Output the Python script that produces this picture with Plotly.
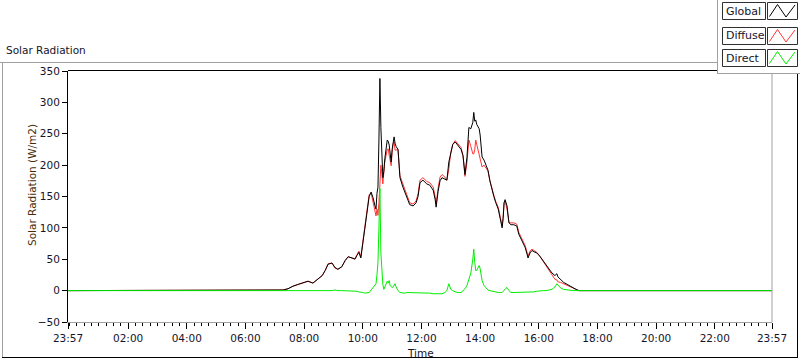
import plotly.graph_objects as go
import pandas as pd

# ---------------- data ----------------
times = ["23:57", "07:07", "07:17", "07:27", "07:37", "07:48", "07:58", "08:08", "08:18", "08:28",
         "08:37", "08:43", "08:49", "08:57", "09:03", "09:09", "09:17", "09:24", "09:30", "09:38",
         "09:44", "09:48", "09:52", "09:56", "10:00", "10:04", "10:09", "10:13", "10:17", "10:21",
         "10:25", "10:27", "10:29", "10:31", "10:33", "10:35", "10:37", "10:39", "10:41", "10:43",
         "10:45", "10:50", "10:52", "10:54", "10:56", "10:58", "11:00", "11:02", "11:04", "11:06",
         "11:08", "11:12", "11:16", "11:22", "11:26", "11:30", "11:36", "11:43", "11:49", "11:53",
         "11:57", "12:03", "12:11", "12:17", "12:24", "12:28", "12:30", "12:34", "12:38", "12:42",
         "12:48", "12:52", "12:56", "13:00", "13:04", "13:09", "13:15", "13:21", "13:25", "13:29",
         "13:33", "13:37", "13:41", "13:45", "13:47", "13:49", "13:51", "13:53", "13:58", "14:00",
         "14:04", "14:08", "14:12", "14:16", "14:20", "14:24", "14:28", "14:32", "14:37", "14:41",
         "14:45", "14:47", "14:49", "14:51", "14:53", "14:55", "14:59", "15:03", "15:09", "15:15",
         "15:19", "15:24", "15:28", "15:32", "15:36", "15:38", "15:42", "15:46", "15:50", "15:56",
         "16:02", "16:09", "16:15", "16:21", "16:27", "16:33", "16:37", "16:39", "16:45", "16:51",
         "16:58", "17:04", "17:10", "17:16", "17:22", "23:57"]

global_wm2 = [0, 0, 1, 3, 7, 10, 12, 15, 12, 19,
              24, 32, 42, 44, 37, 34, 38, 48, 54, 52,
              50, 56, 61, 52, 75, 100, 123, 150, 157, 148,
              135, 130, 155, 165, 240, 338, 260, 215, 180, 190,
              210, 240, 238, 232, 215, 205, 225, 240, 245, 235,
              230, 225, 180, 165, 157, 150, 137, 135, 140, 150,
              172, 176, 170, 168, 160, 145, 133, 158, 175, 180,
              178, 176, 205, 222, 233, 237, 230, 225, 215, 185,
              212, 260, 258, 268, 284, 270, 272, 265, 258, 248,
              213, 208, 200, 192, 175, 160, 150, 140, 130, 115,
              100, 115, 140, 145, 140, 135, 108, 105, 105, 103,
              90, 82, 75, 69, 58, 52, 60, 64, 62, 60,
              55, 47, 40, 34, 28, 24, 27, 22, 17, 13,
              10, 7, 4, 2, 0, 0]

diffuse_wm2 = [0, 0, 1, 3, 7, 10, 12, 15, 12, 19,
               24, 32, 43, 44, 36, 34, 38, 48, 54, 52,
               51, 57, 63, 54, 78, 104, 126, 153, 156, 143,
               126, 119, 130, 120, 140, 175, 200, 186, 170, 188,
               205, 225, 226, 216, 207, 199, 220, 234, 237, 224,
               224, 225, 183, 169, 161, 153, 140, 138, 143, 154,
               176, 180, 174, 172, 165, 150, 138, 163, 181, 185,
               181, 176, 194, 220, 233, 239, 233, 228, 215, 182,
               204, 240, 230, 218, 218, 225, 240, 233, 218, 213,
               197, 200, 196, 191, 175, 161, 152, 142, 133, 118,
               103, 116, 140, 143, 136, 130, 108, 108, 108, 106,
               93, 85, 78, 72, 61, 55, 63, 66, 64, 61,
               55, 47, 40, 33, 26, 18, 17, 14, 13, 11,
               9, 7, 4, 2, 0, 0]

direct_wm2 = [0, 0, 0, 0, 0, 0, 0, 0, 0, 0,
              0, 0, -1, 0, 1, 0, 0, 0, 0, 0,
              -1, -1, -2, -2, -3, -4, -3, -3, 1, 5,
              9, 11, 25, 45, 100, 163, 60, 29, 10, 2,
              5, 15, 12, 16, 8, 6, 5, 6, 8, 11,
              6, 0, -3, -4, -4, -3, -3, -3, -3, -4,
              -4, -4, -4, -4, -5, -5, -5, -5, -6, -5,
              -3, 0, 11, 2, 0, -2, -3, -3, 0, 3,
              8, 20, 28, 50, 66, 45, 32, 32, 40, 35,
              16, 8, 4, 1, 0, -1, -2, -2, -3, -3,
              -3, -1, 0, 2, 4, 5, 0, -3, -3, -3,
              -3, -3, -3, -3, -3, -3, -3, -2, -2, -1,
              0, 0, 0, 1, 2, 6, 11, 9, 4, 2,
              1, 0, 0, 0, 0, 0]

y_ticks = [-50, 0, 50, 100, 150, 200, 250, 300, 350]
x_tick_labels = ["23:57", "02:00", "04:00", "06:00", "08:00", "10:00", "12:00",
                 "14:00", "16:00", "18:00", "20:00", "22:00", "23:57"]


# times wrap past midnight: the day advances whenever the clock goes backwards
def to_datetimes(hhmm_list, first_day="2020-01-01"):
    out, day, prev = [], pd.Timestamp(first_day), None
    for s in hhmm_list:
        h, m = map(int, s.split(":"))
        mins = h * 60 + m
        if prev is not None and mins < prev:
            day = day + pd.Timedelta(days=1)
        prev = mins
        out.append(day + pd.Timedelta(minutes=mins))
    return out


x_dt = to_datetimes(times)
x_start, x_end = x_dt[0], x_dt[-1]
tick_dt = to_datetimes(x_tick_labels)

# ---------------- geometry helpers (pixels -> paper) ----------------
W, H = 800, 361
PL, PR, PT, PB = 68, 772, 71, 322


def fx(px):
    return (px - PL) / (PR - PL)


def fy(py):
    return (PB - py) / (PB - PT)


FONT = "DejaVu Sans"
TXT = "#14142a"

fig = go.Figure()
fig.add_trace(go.Scatter(x=x_dt, y=diffuse_wm2, mode="lines", name="Diffuse",
                         line=dict(color="#ff3535", width=1), showlegend=False))
fig.add_trace(go.Scatter(x=x_dt, y=global_wm2, mode="lines", name="Global",
                         line=dict(color="#000000", width=1), showlegend=False))
fig.add_trace(go.Scatter(x=x_dt, y=direct_wm2, mode="lines", name="Direct",
                         line=dict(color="#00ee00", width=1), showlegend=False))

shapes = []


def line(x0, y0, x1, y1, color, width=1):
    shapes.append(dict(type="line", xref="paper", yref="paper",
                       x0=fx(x0), y0=fy(y0), x1=fx(x1), y1=fy(y1),
                       line=dict(color=color, width=width), layer="above"))


def rect(x0, y0, x1, y1, fill, border, width=1):
    shapes.append(dict(type="rect", xref="paper", yref="paper",
                       x0=fx(x0), y0=fy(y0), x1=fx(x1), y1=fy(y1),
                       fillcolor=fill, line=dict(color=border, width=width), layer="above"))


# outer frame
line(0, 62.5, 717, 62.5, "#a0a0a0")
line(2.5, 62, 2.5, 357, "#a0a0a0")
line(2, 357.5, 798, 357.5, "#000000")
line(797.5, 73, 797.5, 358, "#000000")
# plot area border (top black, right gray)
line(PL, PT - 0.5, 717, PT - 0.5, "#000000")
line(PR, 73, PR, PB, "#a0a0a0")

# legend panel
rect(717, -2, 802, 73, "#ffffff", "rgba(0,0,0,0)", 0)
line(717.5, 0, 717.5, 73, "#a0a0a0")
line(717, 73.5, 800, 73.5, "#a0a0a0")

legend_items = [("Global", "#000000", 2), ("Diffuse", "#ff3535", 27), ("Direct", "#00ee00", 49)]
annotations = []
for name, color, top in legend_items:
    rect(722.5, top + 0.5, 765.5, top + 17.5, "#ffffff", "#303030")
    rect(767.5, top + 0.5, 797.5, top + 17.5, "#ffffff", "#303030")
    pts = [(769.5, top + 14.5), (777.5, top + 2.5), (786, top + 15), (795, top + 3)]
    path = "M " + " L ".join(f"{fx(px)},{fy(py)}" for px, py in pts)
    shapes.append(dict(type="path", xref="paper", yref="paper", path=path,
                       line=dict(color=color, width=1), layer="above"))
    annotations.append(dict(text=name, xref="paper", yref="paper", x=fx(724), y=fy(top + 9),
                            xanchor="left", yanchor="middle", showarrow=False,
                            font=dict(family=FONT, size=11, color=TXT)))

annotations += [
    dict(text="Solar Radiation", xref="paper", yref="paper", x=fx(4), y=fy(50),
         xanchor="left", yanchor="middle", showarrow=False,
         font=dict(family=FONT, size=10.5, color=TXT)),
    dict(text="Solar Radiation (W/m2)", xref="paper", yref="paper", x=fx(32), y=fy(185),
         xanchor="center", yanchor="middle", textangle=-90, showarrow=False,
         font=dict(family=FONT, size=10.5, color="#4a2c08")),
    dict(text="Time", xref="paper", yref="paper", x=fx(420), y=fy(353),
         xanchor="center", yanchor="middle", showarrow=False,
         font=dict(family=FONT, size=10.5, color=TXT)),
]

fig.update_layout(
    width=W, height=H, autosize=False,
    margin=dict(l=PL, r=W - PR, t=PT, b=H - PB, pad=0),
    paper_bgcolor="#ffffff", plot_bgcolor="#ffffff",
    shapes=shapes, annotations=annotations,
    showlegend=False,
)
fig.update_xaxes(
    type="date", range=[x_start, x_end],
    tickmode="array", tickvals=tick_dt, ticktext=x_tick_labels,
    ticks="outside", ticklen=6, tickcolor="#000000", tickwidth=1,
    showline=True, linecolor="#a0a0a0", linewidth=1,
    showgrid=False, zeroline=False,
    tickfont=dict(family=FONT, size=10.5, color=TXT),
    minor=dict(ticks="outside", ticklen=3, tickcolor="#000000", tickwidth=1,
               tickmode="linear", tick0="2020-01-02 00:00", dtick=15 * 60 * 1000,
               showgrid=False),
)
fig.update_yaxes(
    range=[-50, 350], tickmode="array", tickvals=y_ticks,
    ticks="outside", ticklen=5, tickcolor="#000000", tickwidth=1,
    showline=True, linecolor="#000000", linewidth=1,
    showgrid=False, zeroline=False,
    tickfont=dict(family=FONT, size=10.5, color=TXT),
)

fig.write_html("out.html", config={"displayModeBar": False},
               post_script="document.body.style.margin='0';")
